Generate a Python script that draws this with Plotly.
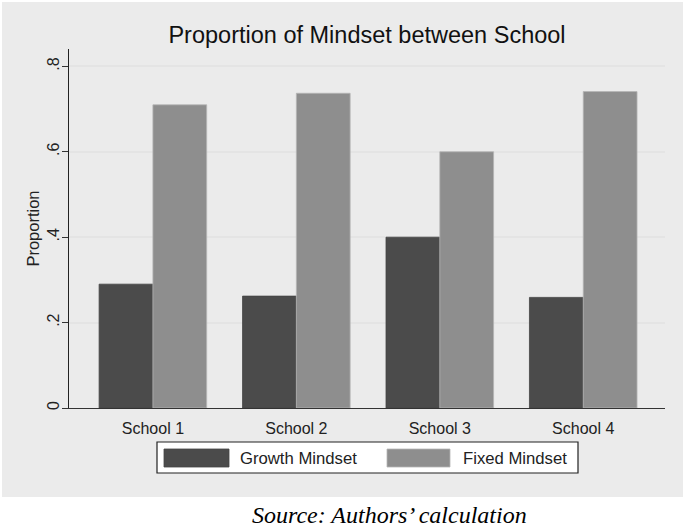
import plotly.graph_objects as go

schools = ["School 1", "School 2", "School 3", "School 4"]
growth = [0.290, 0.262, 0.400, 0.259]
fixed = [0.710, 0.737, 0.600, 0.741]
series_names = ["Growth Mindset", "Fixed Mindset"]
y_tickvals = [0, 0.2, 0.4, 0.6, 0.8]
y_ticktext = ["0", ".2", ".4", ".6", ".8"]

W, H = 685, 528
L, R, T, B = 69, 20, 49, 120
pw, ph = W - L - R, H - T - B

def px(x):
    return (x - L) / pw

def py(y):
    return (H - B - y) / ph

GROWTH_C = "#4b4b4b"
FIXED_C = "#8e8e8e"
FONT = "Liberation Sans, Arial, sans-serif"

fig = go.Figure()
fig.add_trace(go.Bar(x=schools, y=growth, name=series_names[0],
                     marker=dict(color=GROWTH_C, line=dict(color="#444444", width=0.8)),
                     showlegend=False))
fig.add_trace(go.Bar(x=schools, y=fixed, name=series_names[1],
                     marker=dict(color=FIXED_C, line=dict(color="#b5b5b5", width=0.8)),
                     showlegend=False))

shapes = [
    # graph region background
    dict(type="rect", xref="paper", yref="paper", layer="below",
         x0=px(2), x1=px(683), y0=py(497), y1=py(2),
         fillcolor="#ebebeb", line=dict(width=0)),
    # legend box
    dict(type="rect", xref="paper", yref="paper",
         x0=px(157), x1=px(578), y0=py(473), y1=py(442),
         fillcolor="white", line=dict(color="#222222", width=1.2)),
    dict(type="rect", xref="paper", yref="paper",
         x0=px(164), x1=px(229), y0=py(467), y1=py(449),
         fillcolor=GROWTH_C, line=dict(color="#444444", width=0.8)),
    dict(type="rect", xref="paper", yref="paper",
         x0=px(387), x1=px(450), y0=py(467), y1=py(449),
         fillcolor=FIXED_C, line=dict(color="#b5b5b5", width=0.8)),
]

annotations = [
    dict(text=series_names[0], xref="paper", yref="paper", x=px(238), y=py(458),
         xanchor="left", yanchor="middle", showarrow=False,
         font=dict(family=FONT, size=16.7, color="#222222")),
    dict(text=series_names[1], xref="paper", yref="paper", x=px(461), y=py(458),
         xanchor="left", yanchor="middle", showarrow=False,
         font=dict(family=FONT, size=16.7, color="#222222")),
    dict(text="Source: Authors\u2019 calculation", xref="paper", yref="paper",
         x=px(389), y=py(515), xanchor="center", yanchor="middle", showarrow=False,
         font=dict(family="Liberation Serif, Times New Roman, serif", size=24,
                   color="#000000", style="italic")),
]

fig.update_layout(
    width=W, height=H,
    margin=dict(l=L, r=R, t=T, b=B, pad=0),
    paper_bgcolor="white",
    plot_bgcolor="white",
    barmode="group",
    bargap=0.25,
    bargroupgap=0,
    title=dict(text="Proportion of Mindset between School", xref="container",
               x=367 / W, xanchor="center",
               y=1 - 35 / H, yanchor="middle",
               font=dict(family=FONT, size=23.5, color="#111111")),
    shapes=shapes,
    annotations=annotations,
    showlegend=False,
)
fig.update_xaxes(
    range=[-0.585, 3.57],
    showgrid=False,
    showline=True, linecolor="#333333", linewidth=1.2,
    ticks="", tickfont=dict(family=FONT, size=16, color="#222222"),
    ticklabelstandoff=6,
    fixedrange=True,
)
fig.update_yaxes(
    range=[0, 0.8407],
    tickvals=y_tickvals, ticktext=y_ticktext,
    tickangle=-90,
    showgrid=True, gridcolor="#e4e4e4", gridwidth=1.5,
    zeroline=False,
    showline=True, linecolor="#222222", linewidth=1.2,
    ticks="outside", ticklen=6, tickcolor="#333333", tickwidth=1,
    tickfont=dict(family=FONT, size=16, color="#222222"),
    ticklabelstandoff=-3,
    title=dict(text="Proportion", font=dict(family=FONT, size=16.5, color="#222222"), standoff=0),
    fixedrange=True,
)

fig.write_html("out.html", config={"displayModeBar": False},
               post_script="document.body.style.margin='0';document.body.style.overflow='hidden';")
